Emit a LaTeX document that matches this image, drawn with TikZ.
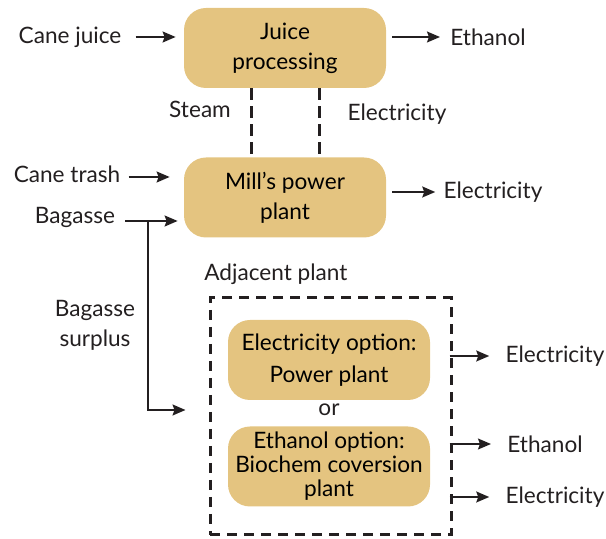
\documentclass[tikz,border=0pt]{standalone}
\usepackage{fontspec}
\setmainfont{Lato}
\usetikzlibrary{positioning,arrows.meta,calc}
\definecolor{tanfill}{RGB}{228,196,128}
\definecolor{inkline}{RGB}{35,31,32}
\tikzset{
  flowarrow/.style={-{Stealth[length=6.5pt, width=5.5pt, inset=1pt]}, line width=0.75pt, inkline},
  linkdash/.style={line width=1.5pt, inkline, dash pattern=on 6pt off 3pt},
  procbox/.style={fill=tanfill, rounded corners=11pt, minimum width=101pt, minimum height=40pt, align=center, inner sep=1pt},
  plantbox/.style={draw=inkline, line width=1.5pt, dash pattern=on 5pt off 3.5pt, minimum width=120.5pt, minimum height=118.5pt},
  flowlabel/.style={inner sep=2pt, align=center, text=inkline}
}

\begin{document}
\begin{tikzpicture}[x=0.5pt, y=-0.5pt, every node/.style={font=\fontsize{11.3}{15}\selectfont}]
      \useasboundingbox (0,0) rectangle (606,539);
      % mill
      \node[procbox] (jp) at (285,48) {Juice\\processing};
      \node[procbox] (mpp) at (285,197.5) {Mill's power\\plant};
      \node[flowlabel] (cj) at (70,37) {Cane juice};
      \node[flowlabel] (eth1) at (488,37) {Ethanol};
      \node[flowlabel] (ct) at (67,174) {Cane trash};
      \node[flowlabel] (bag) at (75,217) {Bagasse};
      \node[flowlabel] (el1) at (493,192) {Electricity};
      \node[flowlabel] (steam) at (200,109) {Steam};
      \node[flowlabel] (el0) at (397,114) {Electricity};
      \draw[flowarrow, shorten <=5pt, shorten >=4pt] (cj.east) -- (cj.east -| jp.west);
      \draw[flowarrow, shorten <=3pt, shorten >=3pt] (jp.east |- eth1) -- (eth1);
      \draw[flowarrow, shorten <=2pt, shorten >=7pt] ($(ct.east)+(0,3)$) -- ($(ct.east -| mpp.west)+(0,3)$);
      \draw[flowarrow, shorten <=3pt, shorten >=2pt] (mpp.east |- el1) -- (el1);
      \draw[linkdash] ($(jp.south)+(-34,0)$) -- ($(mpp.north)+(-34,0)$);
      \draw[linkdash] ($(jp.south)+(34,0)$) -- ($(mpp.north)+(34,0)$);
      % adjacent plant
      \node[plantbox] (adj) at (330.5,416.5) {};
      \node[flowlabel, anchor=south west] (adjlbl) at (200,289) {Adjacent plant};
      \node[procbox, font=\fontsize{11.3}{16}\selectfont] (eopt) at (329,360) {Electricity option:\\Power plant};
      \node[flowlabel] (orlbl) at (329,410) {or};
      \node[procbox, font=\fontsize{11.3}{12}\selectfont] (topt) at (329,466.5) {Ethanol option:\\Biochem coversion\\plant};
      \node[flowlabel] (el2) at (555,356) {Electricity};
      \node[flowlabel] (eth2) at (545,444) {Ethanol};
      \node[flowlabel] (el3) at (555,497) {Electricity};
      \draw[flowarrow, shorten >=6pt] ($(adj.east |- el2)+(-3,0)$) -- (el2);
      \draw[flowarrow, shorten >=6pt] ($(adj.east |- eth2)+(-3,0)$) -- (eth2);
      \draw[flowarrow, shorten >=6pt] ($(adj.east |- el3)+(-3,0)$) -- (el3);
      % bagasse split
      \node[flowlabel] (surplus) at (95,325) {Bagasse\\surplus};
      \coordinate (split) at (148,221);
      \draw[flowarrow, shorten <=3pt, shorten >=3pt] (bag.east |- split) -- (split -| mpp.west);
      \draw[flowarrow, shorten >=11.5pt] (split) |- (orlbl -| adj.west);
    \end{tikzpicture}
\end{document}
